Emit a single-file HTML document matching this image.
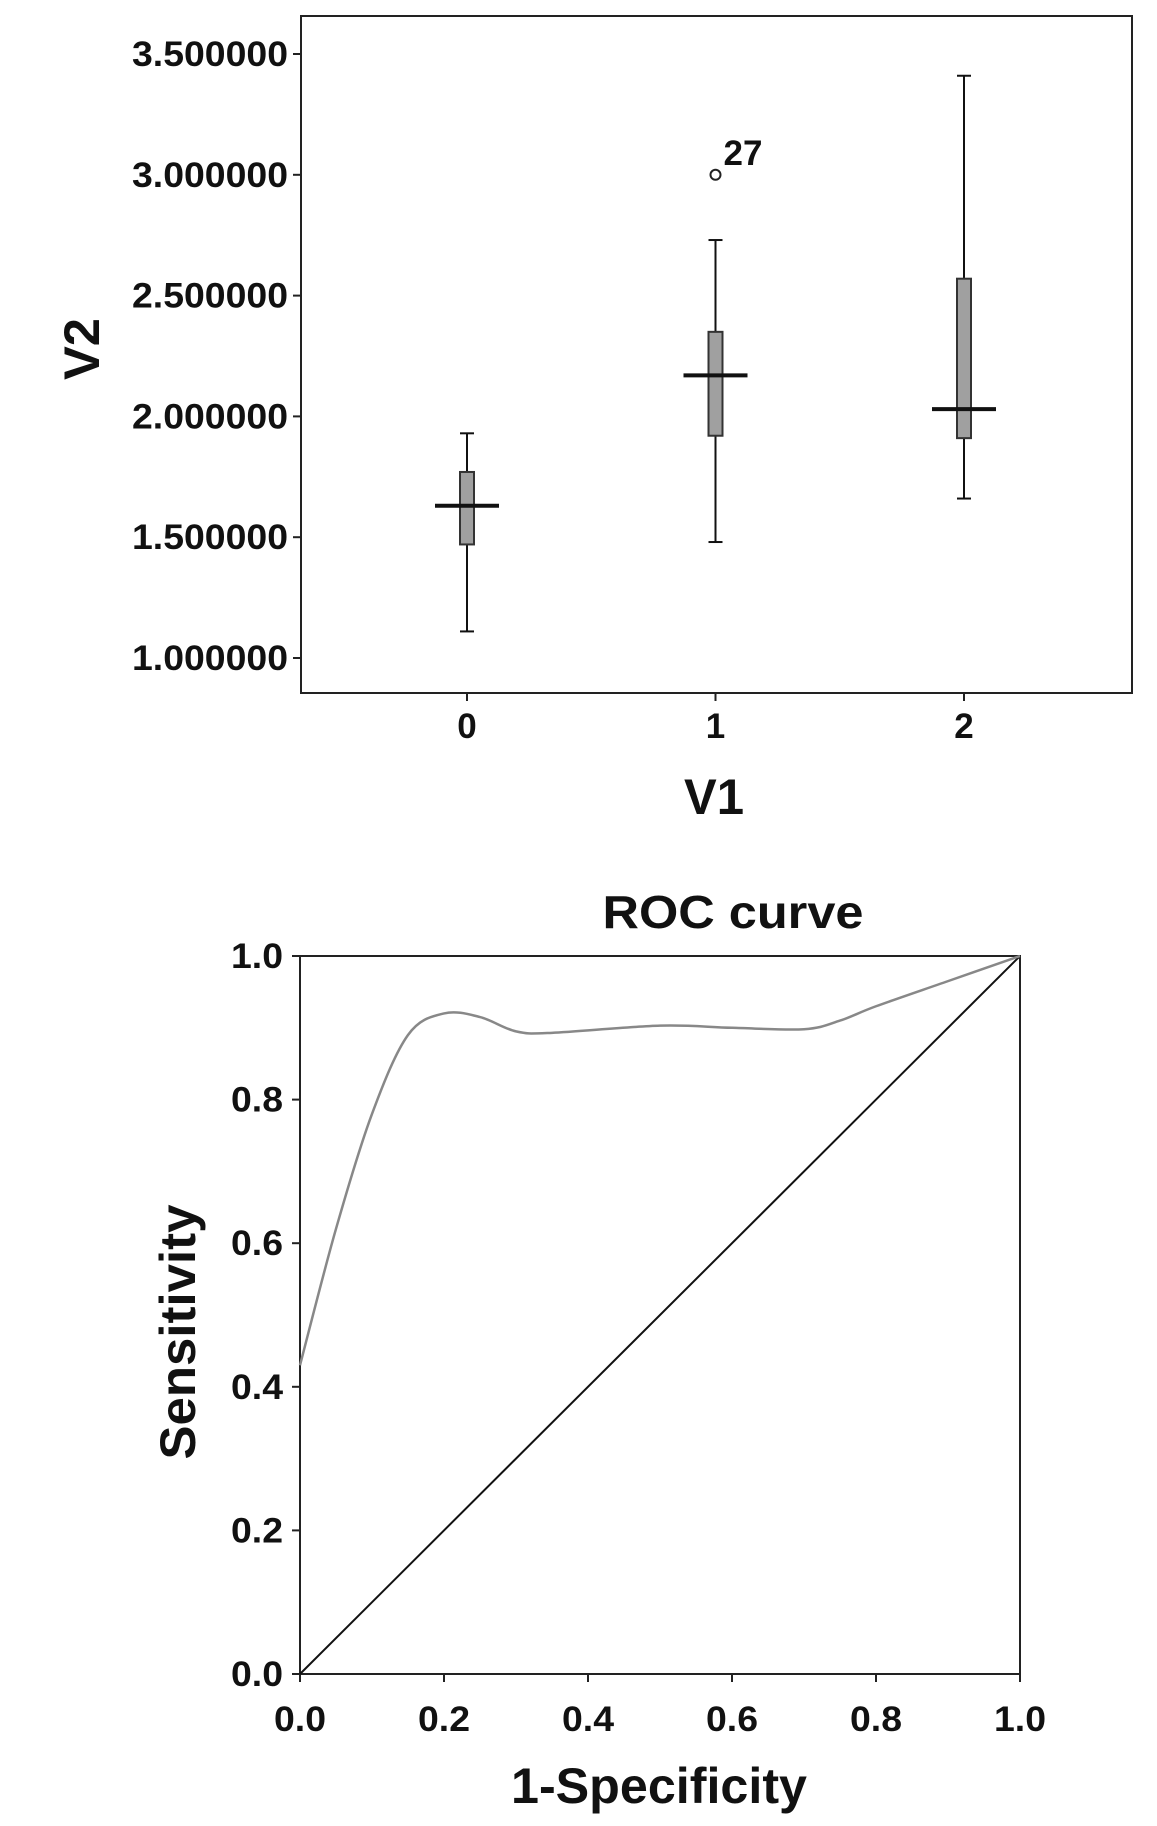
<!DOCTYPE html>
<html><head><meta charset="utf-8"><style>
body{margin:0;background:#fff;}
svg{display:block;font-family:"Liberation Sans",sans-serif;font-weight:bold;}
</style></head><body>
<svg id="s" width="1157" height="1826" viewBox="0 0 1157 1826"></svg>
<script>
const boxCats=["0","1","2"];
const boxMin=[1.11,1.48,1.66];
const boxQ1=[1.47,1.92,1.91];
const boxMed=[1.63,2.17,2.03];
const boxQ3=[1.77,2.35,2.57];
const boxMax=[1.93,2.73,3.41];
const outlierCat=[1];
const outlierVal=[3.0];
const outlierLabel=["27"];
const yTicksBox=[1.0,1.5,2.0,2.5,3.0,3.5];
const rocX=[0,0.05,0.1,0.15,0.2,0.25,0.3,0.35,0.5,0.6,0.7,0.75,0.8,0.9,1];
const rocY=[0.43,0.62,0.78,0.89,0.92,0.915,0.895,0.893,0.903,0.9,0.898,0.91,0.93,0.965,1];
const rocTicks=[0,0.2,0.4,0.6,0.8,1.0];

const s=document.getElementById('s');
function el(t,a,txt){const e=document.createElementNS('http://www.w3.org/2000/svg',t);for(const k in a)e.setAttribute(k,a[k]);if(txt!==undefined)e.textContent=txt;s.appendChild(e);return e;}

// Box plot
const bx=i=>467+i*248.5;
const by=v=>658-(v-1.0)*241.6;
let e=el('rect',{x:301,y:16,width:831,height:677,fill:'none',stroke:'#222','stroke-width':2});

yTicksBox.forEach(v=>{
 el('line',{x1:293,x2:301,y1:by(v),y2:by(v),stroke:'#222','stroke-width':2});
 e=el('text',{x:288,y:by(v)+12,'text-anchor':'end','font-size':35,fill:'#111',textLength:156,lengthAdjust:'spacingAndGlyphs'},v.toFixed(6));
 
});
boxCats.forEach((c,i)=>{
 const x=bx(i);
 el('line',{x1:x,x2:x,y1:693,y2:701,stroke:'#222','stroke-width':2});
 e=el('text',{x:x,y:738,'text-anchor':'middle','font-size':35,fill:'#111'},c);
 
 e=el('line',{x1:x,x2:x,y1:by(boxMax[i]),y2:by(boxMin[i]),stroke:'#111','stroke-width':2});
 
 [boxMax[i],boxMin[i]].forEach(v=>el('line',{x1:x-7,x2:x+7,y1:by(v),y2:by(v),stroke:'#111','stroke-width':2}));
 e=el('rect',{x:x-7,y:by(boxQ3[i]),width:14,height:by(boxQ1[i])-by(boxQ3[i]),fill:'#a0a0a0',stroke:'#333','stroke-width':2});
 
 e=el('line',{x1:x-32,x2:x+32,y1:by(boxMed[i]),y2:by(boxMed[i]),stroke:'#111','stroke-width':4});
 
});
outlierCat.forEach((c,i)=>{
 e=el('circle',{cx:bx(c),cy:by(outlierVal[i]),r:5,fill:'#fff',stroke:'#222','stroke-width':2});
 
 e=el('text',{x:bx(c)+8,y:by(outlierVal[i])-10,'font-size':35,fill:'#111'},outlierLabel[i]);
 
});
e=el('text',{x:714,y:814,'text-anchor':'middle','font-size':50,fill:'#111',textLength:60,lengthAdjust:'spacingAndGlyphs'},'V1');

e=el('text',{x:0,y:0,'text-anchor':'middle','font-size':50,fill:'#111',textLength:62,lengthAdjust:'spacingAndGlyphs',transform:'translate(99,349) rotate(-90)'},'V2');


// ROC
const rx=v=>300+v*720;
const ry=v=>1674-v*718;
e=el('text',{x:733,y:928,'text-anchor':'middle','font-size':46,fill:'#111',textLength:261,lengthAdjust:'spacingAndGlyphs'},'ROC curve');

e=el('rect',{x:300,y:956,width:720,height:718,fill:'none',stroke:'#222','stroke-width':2});

rocTicks.forEach(v=>{
 el('line',{x1:292,x2:300,y1:ry(v),y2:ry(v),stroke:'#222','stroke-width':2});
 e=el('text',{x:283,y:ry(v)+12,'text-anchor':'end','font-size':35,fill:'#111',textLength:52,lengthAdjust:'spacingAndGlyphs'},v.toFixed(1));
 
 el('line',{x1:rx(v),x2:rx(v),y1:1674,y2:1682,stroke:'#222','stroke-width':2});
 e=el('text',{x:rx(v),y:1731,'text-anchor':'middle','font-size':35,fill:'#111',textLength:52,lengthAdjust:'spacingAndGlyphs'},v.toFixed(1));
 
});
e=el('line',{x1:rx(0),y1:ry(0),x2:rx(1),y2:ry(1),stroke:'#111','stroke-width':2});

const P=rocX.map((x,i)=>[rx(x),ry(rocY[i])]);
let d='M'+P[0][0]+','+P[0][1];
for(let i=0;i<P.length-1;i++){
 const p0=P[Math.max(i-1,0)],p1=P[i],p2=P[i+1],p3=P[Math.min(i+2,P.length-1)];
 d+=' C'+(p1[0]+(p2[0]-p0[0])/6)+','+(p1[1]+(p2[1]-p0[1])/6)+' '+(p2[0]-(p3[0]-p1[0])/6)+','+(p2[1]-(p3[1]-p1[1])/6)+' '+p2[0]+','+p2[1];
}
e=el('path',{d:d,fill:'none',stroke:'#888','stroke-width':2.5});

e=el('text',{x:659,y:1803,'text-anchor':'middle','font-size':50,fill:'#111',textLength:296,lengthAdjust:'spacingAndGlyphs'},'1-Specificity');

e=el('text',{x:0,y:0,'text-anchor':'middle','font-size':50,fill:'#111',textLength:255,lengthAdjust:'spacingAndGlyphs',transform:'translate(195,1332) rotate(-90)'},'Sensitivity');

</script>
</body></html>
